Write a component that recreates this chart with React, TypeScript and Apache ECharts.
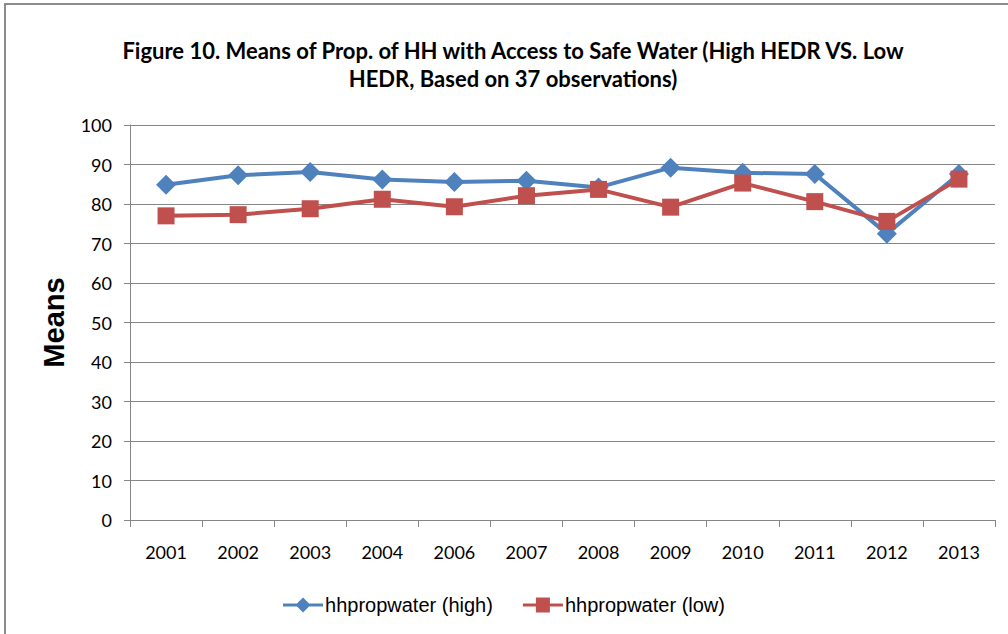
import React, { useEffect, useRef } from "react";
import * as echarts from "echarts";

const years = ["2001", "2002", "2003", "2004", "2006", "2007", "2008", "2009", "2010", "2011", "2012", "2013"];
const highValues = [84.9, 87.3, 88.1, 86.2, 85.6, 85.9, 84.2, 89.2, 87.9, 87.6, 72.5, 87.6];
const lowValues = [77.0, 77.3, 78.8, 81.2, 79.3, 82.1, 83.7, 79.2, 85.3, 80.6, 75.6, 86.3];
const titleLine1 = "Figure 10. Means of Prop. of HH with Access to Safe Water (High HEDR VS. Low";
const titleLine2 = "HEDR, Based on 37 observations)";

const highIcon = "path://M0,6 L40,6 L40,9 L0,9 Z M20,0 L27.5,7.5 L20,15 L12.5,7.5 Z";
const lowIcon = "path://M0,6 L40,6 L40,9 L0,9 Z M13,0 L27,0 L27,15 L13,15 Z";

export default function App() {
  const ref = useRef<HTMLDivElement>(null);
  useEffect(() => {
    document.body.style.margin = "0";
    const chart = echarts.init(ref.current!, null, { renderer: "svg" });
    chart.setOption({
      animation: false,
      backgroundColor: "#ffffff",
      title: {
        text: titleLine1 + "\n" + titleLine2,
        left: 508,
        textAlign: "center",
        top: 31,
        textStyle: {
          fontFamily: "Lato, Liberation Sans, Arial",
          fontWeight: "bold",
          fontSize: 22,
          lineHeight: 28,
          color: "#000",
        },
      },
      graphic: [
        {
          type: "rect",
          shape: { x: 5, y: 4, width: 1020, height: 660 },
          style: { fill: "none", stroke: "#8c8c8c", lineWidth: 2 },
          silent: true,
        },
      ],
      legend: {
        bottom: 14,
        left: "center",
        itemWidth: 40,
        itemHeight: 15,
        itemGap: 30,
        textStyle: { fontFamily: "Liberation Sans, Arial", fontSize: 20, color: "#000", padding: [0, 0, 0, -3] },
        data: [
          { name: "hhpropwater (high)", icon: highIcon },
          { name: "hhpropwater (low)", icon: lowIcon },
        ],
      },
      grid: { left: 130, right: 13, top: 125, bottom: 114 },
      xAxis: {
        type: "category",
        data: years,
        boundaryGap: true,
        axisLine: { lineStyle: { color: "#868686", width: 1 } },
        axisTick: { show: true, length: 7, lineStyle: { color: "#868686" } },
        axisLabel: { fontFamily: "Lato, Liberation Sans, Arial", fontSize: 18, color: "#000", margin: 23 },
      },
      yAxis: {
        type: "value",
        min: 0,
        max: 100,
        interval: 10,
        name: "Means",
        nameLocation: "middle",
        nameGap: 62,
        nameTextStyle: { fontFamily: "Liberation Sans, Arial", fontSize: 29, fontWeight: "bold", color: "#000" },
        axisLine: { show: true, lineStyle: { color: "#868686", width: 1 } },
        axisTick: { show: true, length: 6, lineStyle: { color: "#868686" } },
        axisLabel: { fontFamily: "Lato, Liberation Sans, Arial", fontSize: 18, color: "#000", margin: 18 },
        splitLine: { show: true, lineStyle: { color: "#868686", width: 1 } },
      },
      series: [
        {
          name: "hhpropwater (high)",
          type: "line",
          data: highValues,
          symbol: "diamond",
          symbolSize: 20,
          lineStyle: { color: "#4F81BD", width: 4 },
          itemStyle: { color: "#4F81BD" },
        },
        {
          name: "hhpropwater (low)",
          type: "line",
          data: lowValues,
          symbol: "rect",
          symbolSize: 17,
          lineStyle: { color: "#C0504D", width: 4 },
          itemStyle: { color: "#C0504D" },
        },
      ],
    });
    return () => chart.dispose();
  }, []);
  return <div ref={ref} style={{ position: "absolute", left: 0, top: 0, width: 1008, height: 634 }} />;
}
